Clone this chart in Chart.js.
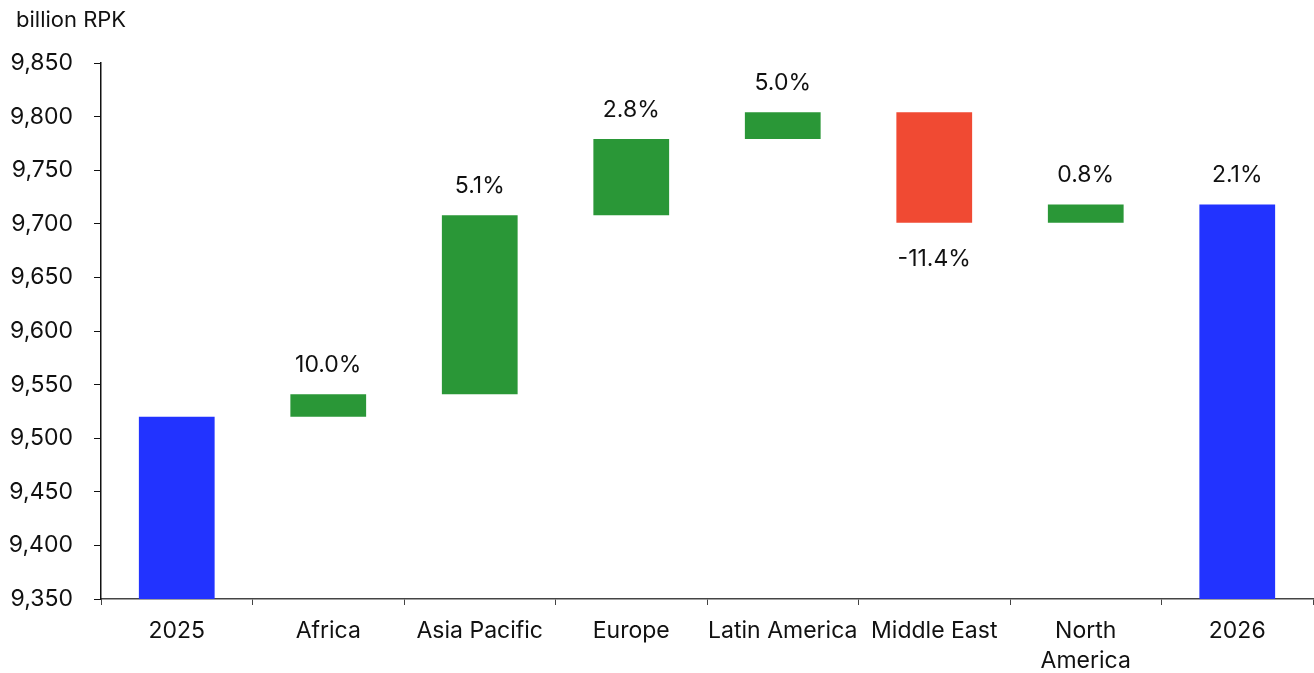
<!DOCTYPE html>
<html>
<head>
<meta charset="utf-8">
<script src="https://cdn.jsdelivr.net/npm/chart.js@4/dist/chart.umd.min.js"></script>
<style>
    html, body { margin: 0; padding: 0; background: #fff; }
    #wrap { position: relative; width: 1314px; height: 673px; }
</style>
</head>
<body>
<div id="wrap"><canvas id="rpkChart"></canvas></div>
<script>
// Data
const categories = ['2025', 'Africa', 'Asia Pacific', 'Europe', 'Latin America', 'Middle East', ['North', 'America'], '2026'];
const startTotal = 9520;
const regionChanges = [21, 167, 71, 25, -103, 17];
const endTotal = 9718;
const growthLabels = ['', '10.0%', '5.1%', '2.8%', '5.0%', '-11.4%', '0.8%', '2.1%'];
const yTicks = [9350, 9400, 9450, 9500, 9550, 9600, 9650, 9700, 9750, 9800, 9850];

const axisMin = yTicks[0];
const axisMax = yTicks[yTicks.length - 1];

const BLUE = '#2233FF';
const GREEN = '#2A9737';
const RED = '#F04A33';

// Build floating bars for the waterfall
const floating = [[axisMin, startTotal]];
const barColors = [BLUE];
let running = startTotal;
regionChanges.forEach(ch => {
    floating.push([running, running + ch]);
    barColors.push(ch >= 0 ? GREEN : RED);
    running += ch;
});
floating.push([axisMin, endTotal]);
barColors.push(BLUE);

const FONT = 'Inter, "DejaVu Sans", sans-serif';

// Growth labels above / below bars, and axis unit title
const labelPlugin = {
    id: 'growthLabels',
    afterDatasetsDraw(chart) {
        const ctx = chart.ctx;
        const meta = chart.getDatasetMeta(0);
        const yScale = chart.scales.y;
        ctx.save();
        ctx.font = '23px ' + FONT;
        ctx.fillStyle = '#111';
        ctx.textAlign = 'center';
        ctx.textBaseline = 'middle';
        meta.data.forEach((bar, i) => {
            const txt = growthLabels[i];
            if (!txt) return;
            const [a, b] = floating[i];
            if (b >= a) {
                ctx.fillText(txt, bar.x, yScale.getPixelForValue(Math.max(a, b)) - 29);
            } else {
                ctx.fillText(txt, bar.x, yScale.getPixelForValue(Math.min(a, b)) + 36);
            }
        });
        ctx.textAlign = 'left';
        ctx.font = '22px ' + FONT;
        ctx.fillText('billion RPK', 16, 20);
        ctx.restore();
    }
};

new Chart(document.getElementById('rpkChart'), {
    type: 'bar',
    data: {
        labels: categories,
        datasets: [{
            data: floating,
            backgroundColor: barColors,
            borderWidth: 0,
            barPercentage: 0.5,
            categoryPercentage: 1.0
        }]
    },
    options: {
        responsive: true,
        maintainAspectRatio: false,
        animation: false,
        layout: {
            padding: { top: 63, right: 1, left: 0, bottom: 0 }
        },
        plugins: {
            legend: { display: false },
            tooltip: { enabled: false }
        },
        scales: {
            x: {
                grid: {
                    offset: true,
                    drawOnChartArea: false,
                    drawTicks: true,
                    tickLength: 6,
                    color: '#444'
                },
                border: { color: '#444', width: 1.5 },
                ticks: {
                    color: '#111',
                    font: { family: FONT, size: 23, lineHeight: 1.3 },
                    padding: 11,
                    maxRotation: 0,
                    autoSkip: false
                },
                afterFit(scale) { scale.height = 74; }
            },
            y: {
                min: axisMin,
                max: axisMax,
                grid: {
                    drawOnChartArea: false,
                    drawTicks: true,
                    tickLength: 7,
                    color: '#111'
                },
                border: { color: '#111', width: 1.5 },
                ticks: {
                    stepSize: 50,
                    color: '#111',
                    font: { family: FONT, size: 23 },
                    padding: 21,
                    callback: v => v.toLocaleString('en-US')
                },
                afterFit(scale) { scale.width = 101; }
            }
        }
    },
    plugins: [labelPlugin]
});
</script>
</body>
</html>
